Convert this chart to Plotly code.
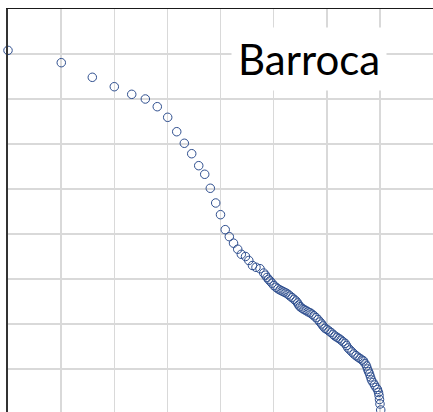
import plotly.graph_objects as go

# Values (arbitrary units; grid every 10)
x_vals = [
    0.0, 10.03, 15.87, 20.01, 23.29, 25.85, 28.10, 30.06, 31.76, 33.19,
    34.58, 35.90, 37.03, 38.08, 39.10, 40.00, 40.89, 41.66, 42.45, 43.24,
    43.92, 44.71, 45.33, 46.02, 46.68, 47.44, 48.13,
    48.47, 48.75, 49.04, 49.32, 49.69, 50.07, 50.45, 50.82, 51.20,
    51.58, 51.95, 52.33, 52.71, 53.08, 53.46, 53.84, 54.21,
    54.50, 54.72, 54.97, 55.34, 55.72,
    56.10, 56.47, 56.85, 57.22, 57.60, 57.98, 58.35, 58.73, 59.05,
    59.30, 59.67, 60.05, 60.42, 60.80, 61.18, 61.55,
    61.93, 62.31, 62.68, 63.06, 63.44, 63.72, 64.00,
    64.38, 64.75, 65.13, 65.51, 65.88, 66.26, 66.64, 66.92,
    67.20, 67.48, 67.67, 67.86, 68.05, 68.24, 68.42, 68.71, 68.99,
    69.27, 69.55, 69.74, 69.84, 69.93, 70.02, 70.16,
]
y_vals = [
    80.8, 78.07, 74.82, 72.73, 71.04, 70.00, 68.29, 65.93, 62.73, 60.16,
    57.84, 55.18, 53.27, 50.16, 46.89, 44.29, 40.96, 39.40, 37.96, 36.62,
    35.49, 35.00, 34.11, 33.00, 32.60, 32.29, 31.33,
    30.84, 30.33, 29.93, 29.56, 29.07, 28.53, 28.16, 27.82, 27.56,
    27.33, 27.11, 26.89, 26.60, 26.22, 25.87, 25.49, 25.11,
    24.67, 24.22, 23.84, 23.51, 23.22,
    22.98, 22.71, 22.51, 22.18, 21.82, 21.42, 20.98, 20.44, 20.00,
    19.56, 19.04, 18.78, 18.44, 18.11, 17.71, 17.33,
    17.04, 16.76, 16.44, 16.04, 15.71, 15.22, 14.67,
    14.22, 13.78, 13.33, 12.96, 12.62, 12.33, 12.00, 11.78,
    11.22, 10.67, 10.00, 9.44, 8.89, 8.22, 7.56, 7.00, 6.44,
    5.89, 5.44, 4.78, 4.11, 3.22, 2.22, 0.89,
]
title_text = "Barroca"

fig = go.Figure()
fig.add_trace(go.Scatter(
    x=x_vals, y=y_vals, mode="markers", cliponaxis=False,
    marker=dict(symbol="circle-open", size=8.5, color="#2F4F8F",
                line=dict(width=1, color="#2F4F8F")),
    showlegend=False, hoverinfo="skip",
))

fig.add_annotation(
    x=56.75, y=79.0, xref="x", yref="y", text=title_text, showarrow=False,
    font=dict(family="Lato", size=42, color="black"),
    bgcolor="white", borderpad=6, xanchor="center", yanchor="middle",
)

fig.update_xaxes(range=[0, 80], dtick=10, tick0=0, showgrid=True,
                 gridcolor="#D9D9D9", gridwidth=1.5, showticklabels=False,
                 ticks="", zeroline=False, showline=True, linecolor="#1a1a1a",
                 linewidth=1.5, side="top")
fig.update_yaxes(range=[0.44, 90], dtick=10, tick0=0, showgrid=True,
                 gridcolor="#D9D9D9", gridwidth=1.5, showticklabels=False,
                 ticks="", zeroline=False, showline=True, linecolor="#333333",
                 linewidth=2)

fig.update_layout(
    width=433, height=412, margin=dict(l=8, r=0, t=9, b=0),
    paper_bgcolor="white", plot_bgcolor="white",
)
fig.write_html(
    "out.html",
    config={"displayModeBar": False, "staticPlot": True},
    post_script="document.body.style.margin='0';document.body.style.overflow='hidden';",
)
